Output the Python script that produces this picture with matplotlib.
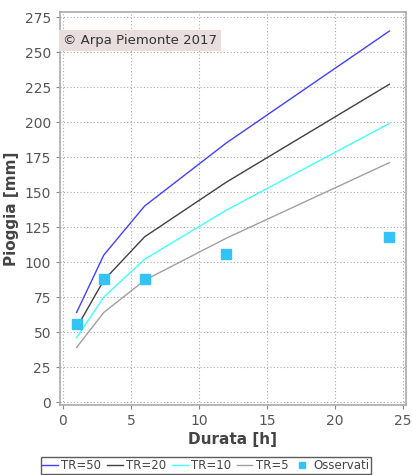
import matplotlib
matplotlib.use("Agg")
import matplotlib.pyplot as plt

durata = [1, 3, 6, 12, 24]
tr50 = [64, 105, 140, 185, 265]
tr20 = [53, 87, 118, 157, 227]
tr10 = [46, 75, 102, 137, 199]
tr5 = [39, 64, 87, 117, 171]
oss_x = [1, 3, 6, 12, 24]
oss_y = [56, 88, 88, 106, 118]
xticks = [0, 5, 10, 15, 20, 25]
yticks = list(range(0, 276, 25))

plt.rcParams['font.family'] = ['DejaVu Sans']
fig = plt.figure(figsize=(4.12, 4.75), dpi=100)
ax = fig.add_axes([60/412, 1-405/475, 346/412, 393/475])

ax.plot(durata, tr50, color='#4040ff', lw=1.0, label='TR=50')
ax.plot(durata, tr20, color='#404040', lw=1.0, label='TR=20')
ax.plot(durata, tr10, color='#40ffff', lw=1.0, label='TR=10')
ax.plot(durata, tr5, color='#a0a0a0', lw=1.0, label='TR=5')
ax.plot(oss_x, oss_y, ls='none', marker='s', ms=7, color='#33c3f5', label='Osservati')

ax.set_xlim(-0.22, 25.22)
ax.set_ylim(-2.1, 278.6)
ax.set_xticks(xticks)
ax.set_yticks(yticks)
ax.grid(True, ls=(0, (1, 2)), color='#aaaaaa', lw=0.8)
for s in ax.spines.values():
    s.set_color('#aaaaaa')
    s.set_linewidth(1.2)
ax.tick_params(colors='#555555', labelsize=10, length=3, width=0.8)
ax.tick_params(axis='both', color='#888888')
ax.set_xlabel('Durata [h]', fontsize=11, fontweight='bold', color='#444444', labelpad=3)
ax.set_ylabel('Pioggia [mm]', fontsize=11, fontweight='bold', color='#444444', labelpad=4)

ax.text(0.0, 258, '\u00a9 Arpa Piemonte 2017', fontsize=9.5, color='#333333', va='center', ha='left',
        bbox=dict(boxstyle='square,pad=0.3', facecolor='#e8dede', edgecolor='none'))

leg = fig.legend(loc='lower center', bbox_to_anchor=(206/412, 0.0), ncol=5, fontsize=8.5,
                 frameon=True, fancybox=False, edgecolor='#333333', handlelength=1.3,
                 handletextpad=0.3, columnspacing=0.5, borderpad=0.15, markerscale=0.6,
                 borderaxespad=0.1)
leg.get_frame().set_linewidth(1.0)
for t in leg.get_texts():
    t.set_color('#444444')

fig.savefig('out.png', dpi=100)
